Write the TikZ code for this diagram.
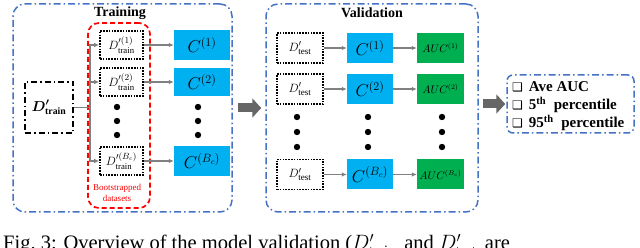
\documentclass[tikz,border=0pt]{standalone}
\usepackage{fontspec}
\usepackage{bm}
\setmainfont{Liberation Serif}
\newfontfamily\symfont{DejaVu Sans}
\usetikzlibrary{arrows.meta,positioning}

\definecolor{frameblue}{HTML}{4472C4}
\definecolor{clfcyan}{HTML}{00B0F0}
\definecolor{aucgreen}{HTML}{00B050}
\definecolor{linkgray}{HTML}{808080}
\definecolor{biggray}{HTML}{666666}
\newcommand\tickbox{{\symfont\fontsize{12}{12}\selectfont ❑}}

\begin{document}
\begin{tikzpicture}[x=1pt,y=-1pt,
  every node/.style={inner sep=0pt,align=center},
  group/.style={draw=frameblue,line width=1.5pt,rounded corners=12pt,
    dash pattern=on 7pt off 3pt on 1.5pt off 3pt},
  bootbox/.style={draw=red,line width=1.7pt,rounded corners=11pt,
    dash pattern=on 5pt off 3pt},
  datain/.style={draw,line width=1.6pt,dash pattern=on 6pt off 3pt on 1.5pt off 3pt,
    minimum width=48pt,minimum height=51pt,font=\fontsize{14}{14}\selectfont},
  dataset/.style={draw,line width=1.7pt,dash pattern=on 1.6pt off 1.2pt,
    minimum width=43pt,minimum height=28pt,font=\fontsize{12.5}{12.5}\selectfont},
  testset/.style={dataset,minimum width=46pt,minimum height=30pt,font=\fontsize{13}{13}\selectfont},
  clf/.style={fill=clfcyan,minimum width=56pt,minimum height=30pt,font=\fontsize{17}{17}\selectfont},
  auc/.style={fill=aucgreen,minimum width=47pt,minimum height=30pt,font=\fontsize{10.5}{10.5}\selectfont},
  link/.style={draw=linkgray,line width=1.2pt,-{Latex[length=5pt,width=4.5pt]}},
  bigarrow/.style={draw=biggray,line width=9pt,-{Triangle[length=9pt,width=19pt]}},
  title/.style={font=\fontsize{14}{14}\selectfont\bfseries},
  result/.style={anchor=west,font=\fontsize{15}{15}\selectfont\bfseries}
]
  \useasboundingbox (0,0) rectangle (640,248);

  % training stage
  \node[group,minimum width=219pt,minimum height=208pt] (training) at (122.5,108) {};
  \node[title] (trainlabel) at (120,13) {Training};
  \node[bootbox,minimum width=62pt,minimum height=185pt] (boot) at (119,115.5) {};
  \node[text=red,font=\fontsize{9}{11}\selectfont] (bootlabel) at (117,193) {Bootstrapped\\datasets};
  \node[datain] (dtrain) at (49,107.5) {$\bm{D'}_{\mathbf{train}}$};
  \coordinate (split) at (90,107.5);

  \node[dataset] (dtr1) at (121.5,45) {$D^{\prime(1)}_{\mathrm{train}}$};
  \node[dataset] (dtr2) at (121.5,82) {$D^{\prime(2)}_{\mathrm{train}}$};
  \node[dataset] (dtrB) at (121.5,161) {$D^{\prime(B_c)}_{\mathrm{train}}$};
  \node[clf] (ctr1) at (202,45) {$C^{(1)}$};
  \node[clf,minimum height=28pt] (ctr2) at (202,82) {$C^{(2)}$};
  \node[clf] (ctrB) at (202,161) {$C^{(B_c)}$};

  \draw[line width=1.2pt,draw=linkgray] (dtrain.east) -- (split);
  \foreach \i in {1,2,B}{
    \draw[link] (split) |- (dtr\i);
    \draw[link] (dtr\i) -- (ctr\i);
  }
  \foreach \x in {117,198}
    \foreach \y in {107,121,135}
      \fill (\x,\y) circle (3.2pt);

  % validation stage
  \node[group,minimum width=212pt,minimum height=208pt] (validation) at (372,108) {};
  \node[title] (validlabel) at (372,13) {Validation};

  \node[testset] (dte1) at (300,48) {$D'_{\mathrm{test}}$};
  \node[testset] (dte2) at (300,89) {$D'_{\mathrm{test}}$};
  \node[testset] (dteB) at (300,174.5) {$D'_{\mathrm{test}}$};
  \node[clf,minimum width=46pt] (cva1) at (370,48) {$C^{(1)}$};
  \node[clf,minimum width=46pt] (cva2) at (370,89) {$C^{(2)}$};
  \node[clf,minimum width=46pt] (cvaB) at (370,174.5) {$C^{(B_c)}$};
  \node[auc] (auc1) at (440.5,48) {$AUC^{(1)}$};
  \node[auc] (auc2) at (440.5,89) {$AUC^{(2)}$};
  \node[auc] (aucB) at (440.5,174.5) {$AUC^{(B_c)}$};

  \foreach \i in {1,2,B}{
    \draw[link] (dte\i) -- (cva\i);
    \draw[link] (cva\i) -- (auc\i);
  }
  \foreach \x in {297,368,442}
    \foreach \y in {117,132,147}
      \fill (\x,\y) circle (3.2pt);

  % summary
  \node[group,rounded corners=6pt,minimum width=127pt,minimum height=58pt] (summary) at (570.5,104) {};
  \node[result] (ave) at (512,87) {\tickbox\hspace{6pt}Ave AUC};
  \node[result] (pfive) at (512,105) {\tickbox\hspace{6pt}5\textsuperscript{th}\ \ percentile};
  \node[result] (pninetyfive) at (512,123) {\tickbox\hspace{6pt}95\textsuperscript{th}\ \ percentile};

  \draw[bigarrow,shorten <=5pt,shorten >=4pt] (training.east) -- (validation.west);
  \draw[bigarrow,shorten <=4pt,shorten >=1pt] (validation.east |- summary.west) -- (summary.west);

  \node[anchor=base west,font=\fontsize{20.5}{20.5}\selectfont] (caption) at (3,250)
    {Fig.~3: Overview of the model validation ($D'_{\mathrm{train}}$\, and $D'_{\mathrm{test}}$\, are};
\end{tikzpicture}
\end{document}
